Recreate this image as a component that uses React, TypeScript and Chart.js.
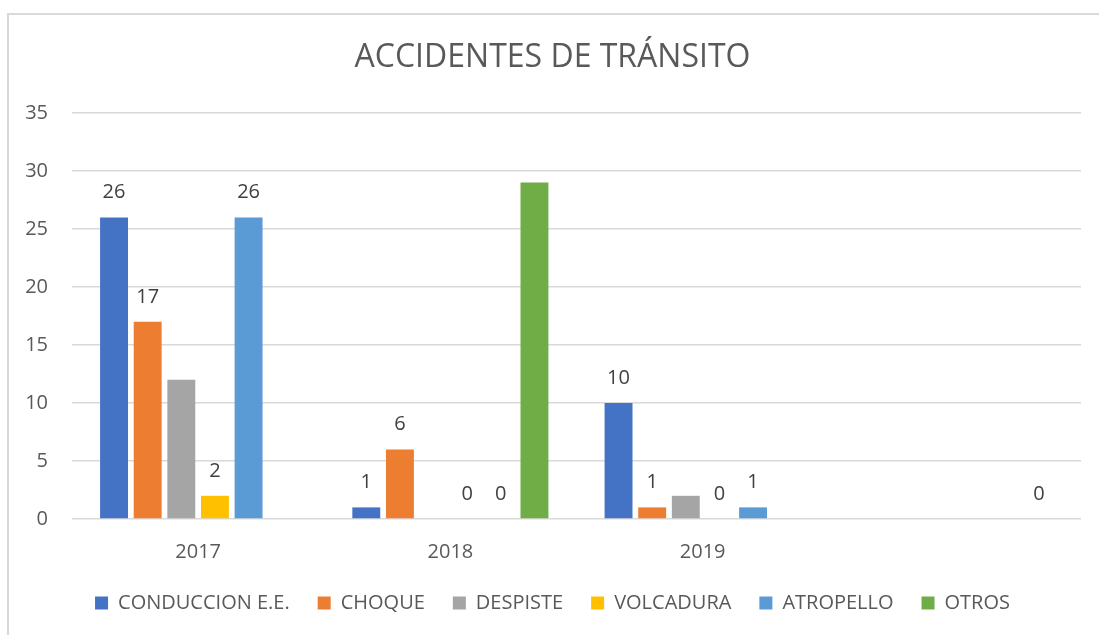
import React, { useEffect, useRef } from "react";
import { Chart, registerables } from "chart.js";

Chart.register(...registerables);

// ---- data ----
const categories = ["2017", "2018", "2019", ""];
const seriesNames = ["CONDUCCION E.E.", "CHOQUE", "DESPISTE", "VOLCADURA", "ATROPELLO", "OTROS"];
const seriesColors = ["#4472C4", "#ED7D31", "#A5A5A5", "#FFC000", "#5B9BD5", "#70AD47"];

const conduccion = [26, 1, 10, null];
const choque = [17, 6, 1, null];
const despiste = [12, 0, 2, null];
const volcadura = [2, 0, 0, null];
const atropello = [26, 0, 1, null];
const otros = [null, 29, null, 0];

// which points show a data label
const conduccionLabels = [true, true, true, false];
const choqueLabels = [true, true, true, false];
const despisteLabels = [false, false, false, false];
const volcaduraLabels = [true, true, true, false];
const atropelloLabels = [true, true, true, false];
const otrosLabels = [false, false, false, true];

const yMin = 0;
const yMax = 35;
const yStep = 5;

const titleText = "ACCIDENTES DE TRÁNSITO";

const seriesValues = [conduccion, choque, despiste, volcadura, atropello, otros];
const seriesLabelFlags = [
  conduccionLabels,
  choqueLabels,
  despisteLabels,
  volcaduraLabels,
  atropelloLabels,
  otrosLabels,
];

const FONT = "'Open Sans', 'Liberation Sans', sans-serif";

const dataLabelPlugin = {
  id: "dataLabels",
  afterDatasetsDraw(chart: any) {
    const ctx = chart.ctx;
    ctx.save();
    ctx.font = `20px ${FONT}`;
    ctx.fillStyle = "#404040";
    ctx.textAlign = "center";
    ctx.textBaseline = "middle";
    chart.data.datasets.forEach((ds: any, i: number) => {
      const meta = chart.getDatasetMeta(i);
      meta.data.forEach((bar: any, j: number) => {
        const v = ds.data[j];
        if (v === null || v === undefined || !seriesLabelFlags[i][j]) return;
        ctx.fillText(String(v), bar.x, bar.y - 25);
      });
    });
    ctx.restore();
  },
};

const frameBorderPlugin = {
  id: "frameBorder",
  beforeDraw(chart: any) {
    const ctx = chart.ctx;
    ctx.save();
    ctx.fillStyle = "#ffffff";
    ctx.fillRect(0, 0, chart.width, chart.height);
    ctx.strokeStyle = "#d9d9d9";
    ctx.lineWidth = 2;
    ctx.beginPath();
    ctx.moveTo(8, chart.height + 2);
    ctx.lineTo(8, 14);
    ctx.lineTo(chart.width + 2, 14);
    ctx.stroke();
    ctx.restore();
  },
};

export default function App() {
  const canvasRef = useRef<HTMLCanvasElement | null>(null);

  useEffect(() => {
    if (!canvasRef.current) return;
    const chart = new Chart(canvasRef.current, {
      type: "bar",
      data: {
        labels: categories,
        datasets: seriesNames.map((name, i) => ({
          label: name,
          data: seriesValues[i] as any,
          backgroundColor: seriesColors[i],
          borderWidth: 0,
          categoryPercentage: 0.8,
          barPercentage: 0.83,
        })),
      },
      options: {
        responsive: false,
        animation: false,
        layout: { padding: { left: 24, right: 18, top: 0, bottom: 12 } },
        plugins: {
          title: {
            display: true,
            text: titleText,
            color: "#595959",
            font: { family: FONT, size: 32, weight: "normal" as any, lineHeight: 1.2 },
            padding: { top: 39, bottom: 35.6 },
          },
          legend: {
            display: true,
            position: "bottom",
            labels: {
              boxWidth: 13,
              boxHeight: 13,
              padding: 28,
              color: "#595959",
              font: { family: FONT, size: 20 },
            },
          },
          tooltip: { enabled: false },
        },
        scales: {
          x: {
            grid: { display: false, drawTicks: false },
            border: { display: false },
            ticks: {
              color: "#595959",
              font: { family: FONT, size: 20 },
              padding: 21,
            },
            afterFit(scale: any) {
              scale.height = 46;
            },
          },
          y: {
            min: yMin,
            max: yMax,
            ticks: {
              stepSize: yStep,
              color: "#595959",
              font: { family: FONT, size: 20 },
              padding: 24,
            },
            grid: { color: "#d9d9d9", lineWidth: 1.5, drawTicks: false },
            border: { display: false },
            afterFit(scale: any) {
              scale.width = 48;
            },
          },
        },
      },
      plugins: [frameBorderPlugin, dataLabelPlugin],
    });
    return () => chart.destroy();
  }, []);

  return (
    <div style={{ position: "absolute", left: 0, top: 0, width: 1099, height: 635 }}>
      <canvas ref={canvasRef} width={1099} height={635} style={{ display: "block" }} />
    </div>
  );
}
